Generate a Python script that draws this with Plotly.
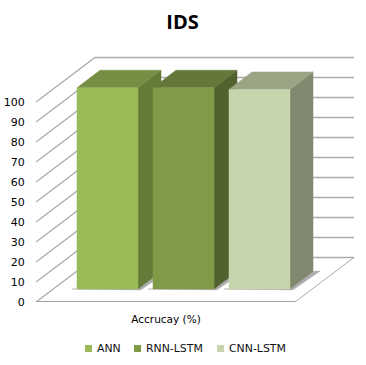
import plotly.graph_objects as go

# ---- data ----
title = "IDS"
category_label = "Accrucay (%)"
series_names = ["ANN", "RNN-LSTM", "CNN-LSTM"]
series_values = [100, 100, 99.2]
tick_values = [0, 10, 20, 30, 40, 50, 60, 70, 80, 90, 100]

# ---- colours ----
front_colors = ["#9BBB59", "#809B48", "#C7D5AC"]
top_colors = ["#778F45", "#637839", "#9AA585"]
side_colors = ["#647A39", "#51622F", "#80896F"]
grid_color = "#ABABAB"

# ---- oblique projection, in axis units (x: 1 unit = 1px, y: 1 unit = 2px) ----
W, H = 366, 365
ML, MR, MT, MB = 36, 12, 56, 63
wall_dx, wall_dy = 59, 22.25
floor_w = 259
bar_left0, bar_step, bar_w = 41, 76, 61
bar_dx, bar_dy = 23, 8.75
bar_base = 6.5
bar_scale = 1.006

fig = go.Figure()


def poly(xs, ys, color):
    fig.add_trace(go.Scatter(x=xs, y=ys, mode="lines", fill="toself", fillcolor=color,
                             line=dict(color=color, width=0.5), hoverinfo="skip",
                             showlegend=False, cliponaxis=False))


def line(xs, ys, width=1.3, color=grid_color):
    fig.add_trace(go.Scatter(x=xs, y=ys, mode="lines", line=dict(color=color, width=width),
                             hoverinfo="skip", showlegend=False, cliponaxis=False))


# walls
for t in tick_values:
    if t == 0:
        continue
    line([0, wall_dx, floor_w + wall_dx],
         [t, t + wall_dy, t + wall_dy])

# floor
poly([0, floor_w, floor_w + wall_dx, wall_dx, 0],
     [0, 0, wall_dy, wall_dy, 0], "#FFFFFF")
line([wall_dx, floor_w + wall_dx], [wall_dy, wall_dy])
line([wall_dx, 0], [wall_dy, 0])
line([floor_w + wall_dx, floor_w], [wall_dy, 0], width=1)
line([0, floor_w], [0, 0], width=1.8, color="#A0A0A0")

# bars
for i, (name, v) in enumerate(zip(series_names, series_values)):
    L = bar_left0 + i * bar_step
    R = L + bar_w
    b = bar_base
    t = b + v * bar_scale
    # soft contact shadow
    poly([L - 5, R + 3, R + bar_dx + 7, R + bar_dx, R, L - 5],
         [b, b - 0.4, b + bar_dy + 0.2, b + bar_dy, b, b], "rgba(130,130,130,0.65)")
    # side
    poly([R, R + bar_dx, R + bar_dx, R, R],
         [b, b + bar_dy, t + bar_dy, t, b], side_colors[i])
    # top
    poly([L, L + bar_dx, R + bar_dx, R, L],
         [t, t + bar_dy, t + bar_dy, t, t], top_colors[i])
    # front
    fig.add_trace(go.Scatter(x=[L, R, R, L, L], y=[b, b, t, t, b], mode="lines", fill="toself",
                             fillcolor=front_colors[i], line=dict(color=front_colors[i], width=0.5),
                             name=name, hovertemplate=f"{name}: {v}<extra></extra>",
                             showlegend=False, cliponaxis=False))

# legend (swatch + text, placed in page pixels)
legend_y = 348.5
legend_swatch_x = [85, 134, 217]
legend_text_x = [96, 145, 228]
shapes = []
annotations = []
for name, c, sx, tx in zip(series_names, front_colors, legend_swatch_x, legend_text_x):
    shapes.append(dict(type="rect", xref="paper", yref="paper", layer="above",
                       x0=(sx - ML) / (W - ML - MR), x1=(sx + 7 - ML) / (W - ML - MR),
                       y0=(H - MB - legend_y - 3.5) / (H - MT - MB), y1=(H - MB - legend_y + 3.5) / (H - MT - MB),
                       fillcolor=c, line=dict(width=0)))
    annotations.append(dict(text=name, xref="paper", yref="paper", showarrow=False,
                            x=(tx - ML) / (W - ML - MR), y=(H - MB - legend_y) / (H - MT - MB),
                            xanchor="left", yanchor="middle", xshift=-1.5,
                            font=dict(family="DejaVu Sans", size=10.9, color="#111111")))

fig.update_layout(
    width=W, height=H,
    margin=dict(l=ML, r=MR, t=MT, b=MB, pad=0, autoexpand=False),
    paper_bgcolor="white", plot_bgcolor="rgba(0,0,0,0)",
    showlegend=False,
    title=dict(text=f"<b>{title}</b>", x=182.5 / W, xanchor="center", y=1 - 22 / H, yanchor="middle",
               font=dict(family="Open Sans", size=20, color="black")),
    xaxis=dict(range=[0, W - ML - MR], showgrid=False, zeroline=False, showline=False, automargin=False,
               tickmode="array", tickvals=[130], ticktext=[category_label],
               ticks="outside", ticklen=7, tickcolor="rgba(0,0,0,0)",
               tickfont=dict(family="DejaVu Sans", size=10.5, color="black")),
    yaxis=dict(range=[0, (H - MT - MB) / 2], showgrid=False, zeroline=False, showline=False, automargin=False,
               tickmode="array", tickvals=tick_values,
               ticks="outside", ticklen=8, tickcolor="rgba(0,0,0,0)",
               tickfont=dict(family="DejaVu Sans", size=11, color="black")),
    shapes=shapes, annotations=annotations,
)

fig.write_html("out.html", config=dict(displayModeBar=False),
               post_script="document.body.style.margin='0';document.documentElement.style.overflow='hidden';")
